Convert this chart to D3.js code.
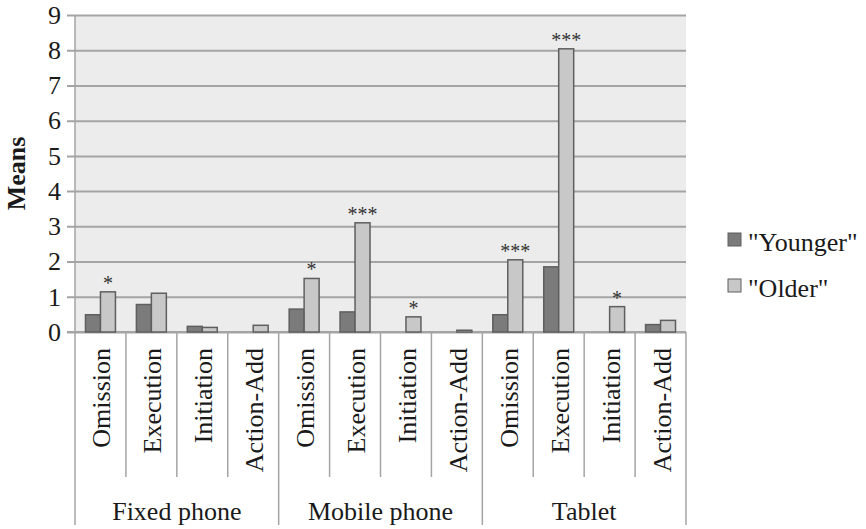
<!DOCTYPE html>
<html>
<head>
<meta charset="utf-8">
<script src="https://cdn.jsdelivr.net/npm/d3@7"></script>
<style>
  html, body { margin: 0; padding: 0; background: #ffffff; }
  svg { display: block; }
</style>
</head>
<body>
<svg id="chart" width="866" height="529"></svg>
<script>
// Mean number of errors by device and error type, per age group
const devices = ["Fixed phone", "Mobile phone", "Tablet"];
const errorTypes = ["Omission", "Execution", "Initiation", "Action-Add"];
const seriesNames = ["\"Younger\"", "\"Older\""];
const younger = [0.49, 0.78, 0.16, 0, 0.65, 0.57, 0, 0, 0.49, 1.85, 0, 0.21];
const older = [1.14, 1.10, 0.13, 0.19, 1.52, 3.10, 0.43, 0.05, 2.05, 8.04, 0.72, 0.33];
const significance = ["*", "", "", "", "*", "***", "*", "", "***", "***", "*", ""];
const yTicks = [0, 1, 2, 3, 4, 5, 6, 7, 8, 9];

const colors = { fillY: "#7b7b7b", fillO: "#c8c8c8", stroke: "#5f5f5f", grid: "#a4a4a4", bg: "#ececec", text: "#1a1a1a" };
const serif = "\"Liberation Serif\", \"Times New Roman\", Times, serif";
const plotLeft = 75, plotRight = 686, plotTop = 15, plotBottom = 332;

const svg = d3.select("#chart");

const cells = [];
devices.forEach((d, gi) => errorTypes.forEach((t, ti) => {
  const i = gi * errorTypes.length + ti;
  cells.push({ key: d + "|" + t, device: d, type: t, younger: younger[i], older: older[i], sig: significance[i] });
}));

const x = d3.scaleBand().domain(cells.map(c => c.key)).range([plotLeft, plotRight]).padding(0);
const xGroup = d3.scaleBand().domain(devices).range([plotLeft, plotRight]).padding(0);
const xSeries = d3.scaleBand().domain(["younger", "older"]).range([0, x.bandwidth()])
  .paddingInner(0).paddingOuter(0.7);
const y = d3.scaleLinear().domain([0, 9]).range([plotBottom, plotTop]);

function serifText(sel, size) {
  return sel.style("font-family", serif).style("font-size", size + "px").attr("fill", colors.text);
}

// plot background
svg.append("rect").attr("x", plotLeft).attr("y", plotTop)
  .attr("width", plotRight - plotLeft).attr("height", plotBottom - plotTop).attr("fill", colors.bg);

// horizontal gridlines + left axis
const yAxis = d3.axisLeft(y).tickValues(yTicks).tickSize(-(plotRight - plotLeft)).tickPadding(14).tickFormat(d3.format("d"));
const gy = svg.append("g").attr("transform", `translate(${plotLeft},0)`).call(yAxis);
gy.select(".domain").remove();
gy.selectAll(".tick line").attr("stroke", colors.grid).attr("stroke-width", 2).attr("x1", -8);
serifText(gy.selectAll(".tick text"), 26);

// category separators below the axis
const subBounds = cells.map(c => x(c.key)).filter((v, i) => i % errorTypes.length !== 0);
svg.append("g").selectAll("line").data(subBounds).join("line")
  .attr("x1", d => d).attr("x2", d => d).attr("y1", plotBottom).attr("y2", 477)
  .attr("stroke", colors.grid).attr("stroke-width", 1.5);
const groupBounds = devices.map(d => xGroup(d)).concat([plotRight]);
svg.append("g").selectAll("line").data(groupBounds).join("line")
  .attr("x1", d => d).attr("x2", d => d).attr("y1", d => d === plotLeft ? plotTop : plotBottom).attr("y2", 525)
  .attr("stroke", colors.grid).attr("stroke-width", 1.5);
svg.append("line").attr("x1", plotLeft - 8).attr("x2", plotRight).attr("y1", plotBottom).attr("y2", plotBottom)
  .attr("stroke", colors.grid).attr("stroke-width", 2);

// bars
const barData = [];
cells.forEach(c => {
  if (c.younger > 0) barData.push({ c, s: "younger", v: c.younger });
  if (c.older > 0) barData.push({ c, s: "older", v: c.older });
});
svg.append("g").selectAll("rect").data(barData).join("rect")
  .attr("x", d => x(d.c.key) + xSeries(d.s))
  .attr("y", d => y(d.v))
  .attr("width", xSeries.bandwidth())
  .attr("height", d => y(0) - y(d.v))
  .attr("fill", d => d.s === "younger" ? colors.fillY : colors.fillO)
  .attr("stroke", colors.stroke).attr("stroke-width", 1.5);

// significance markers above the older bars
serifText(svg.append("g").selectAll("text").data(cells.filter(c => c.sig)).join("text"), 20)
  .attr("x", c => x(c.key) + xSeries("older") + xSeries.bandwidth() / 2)
  .attr("y", c => y(c.older) - 2)
  .attr("text-anchor", "middle").attr("fill", "#333")
  .text(c => c.sig);

// rotated error-type labels
serifText(svg.append("g").selectAll("text").data(cells).join("text"), 26)
  .attr("transform", c => `translate(${x(c.key) + x.bandwidth() / 2 + 10},348) rotate(-90)`)
  .attr("text-anchor", "end")
  .text(c => c.type);

// device labels
serifText(svg.append("g").selectAll("text").data(devices).join("text"), 26)
  .attr("x", d => xGroup(d) + xGroup.bandwidth() / 2).attr("y", 520)
  .attr("text-anchor", "middle")
  .text(d => d);

// y-axis title
serifText(svg.append("text"), 26)
  .attr("transform", `translate(25,${(plotTop + plotBottom) / 2}) rotate(-90)`)
  .attr("text-anchor", "middle").style("font-weight", "bold")
  .text("Means");

// legend
const legend = svg.append("g");
const legendFills = [colors.fillY, colors.fillO];
seriesNames.forEach((name, i) => {
  const ly = 233 + i * 46;
  legend.append("rect").attr("x", 728).attr("y", ly).attr("width", 13).attr("height", 13)
    .attr("fill", legendFills[i]).attr("stroke", colors.stroke).attr("stroke-width", 1);
  serifText(legend.append("text"), 26).attr("x", 748).attr("y", ly + 18).text(name);
});
</script>
</body>
</html>
